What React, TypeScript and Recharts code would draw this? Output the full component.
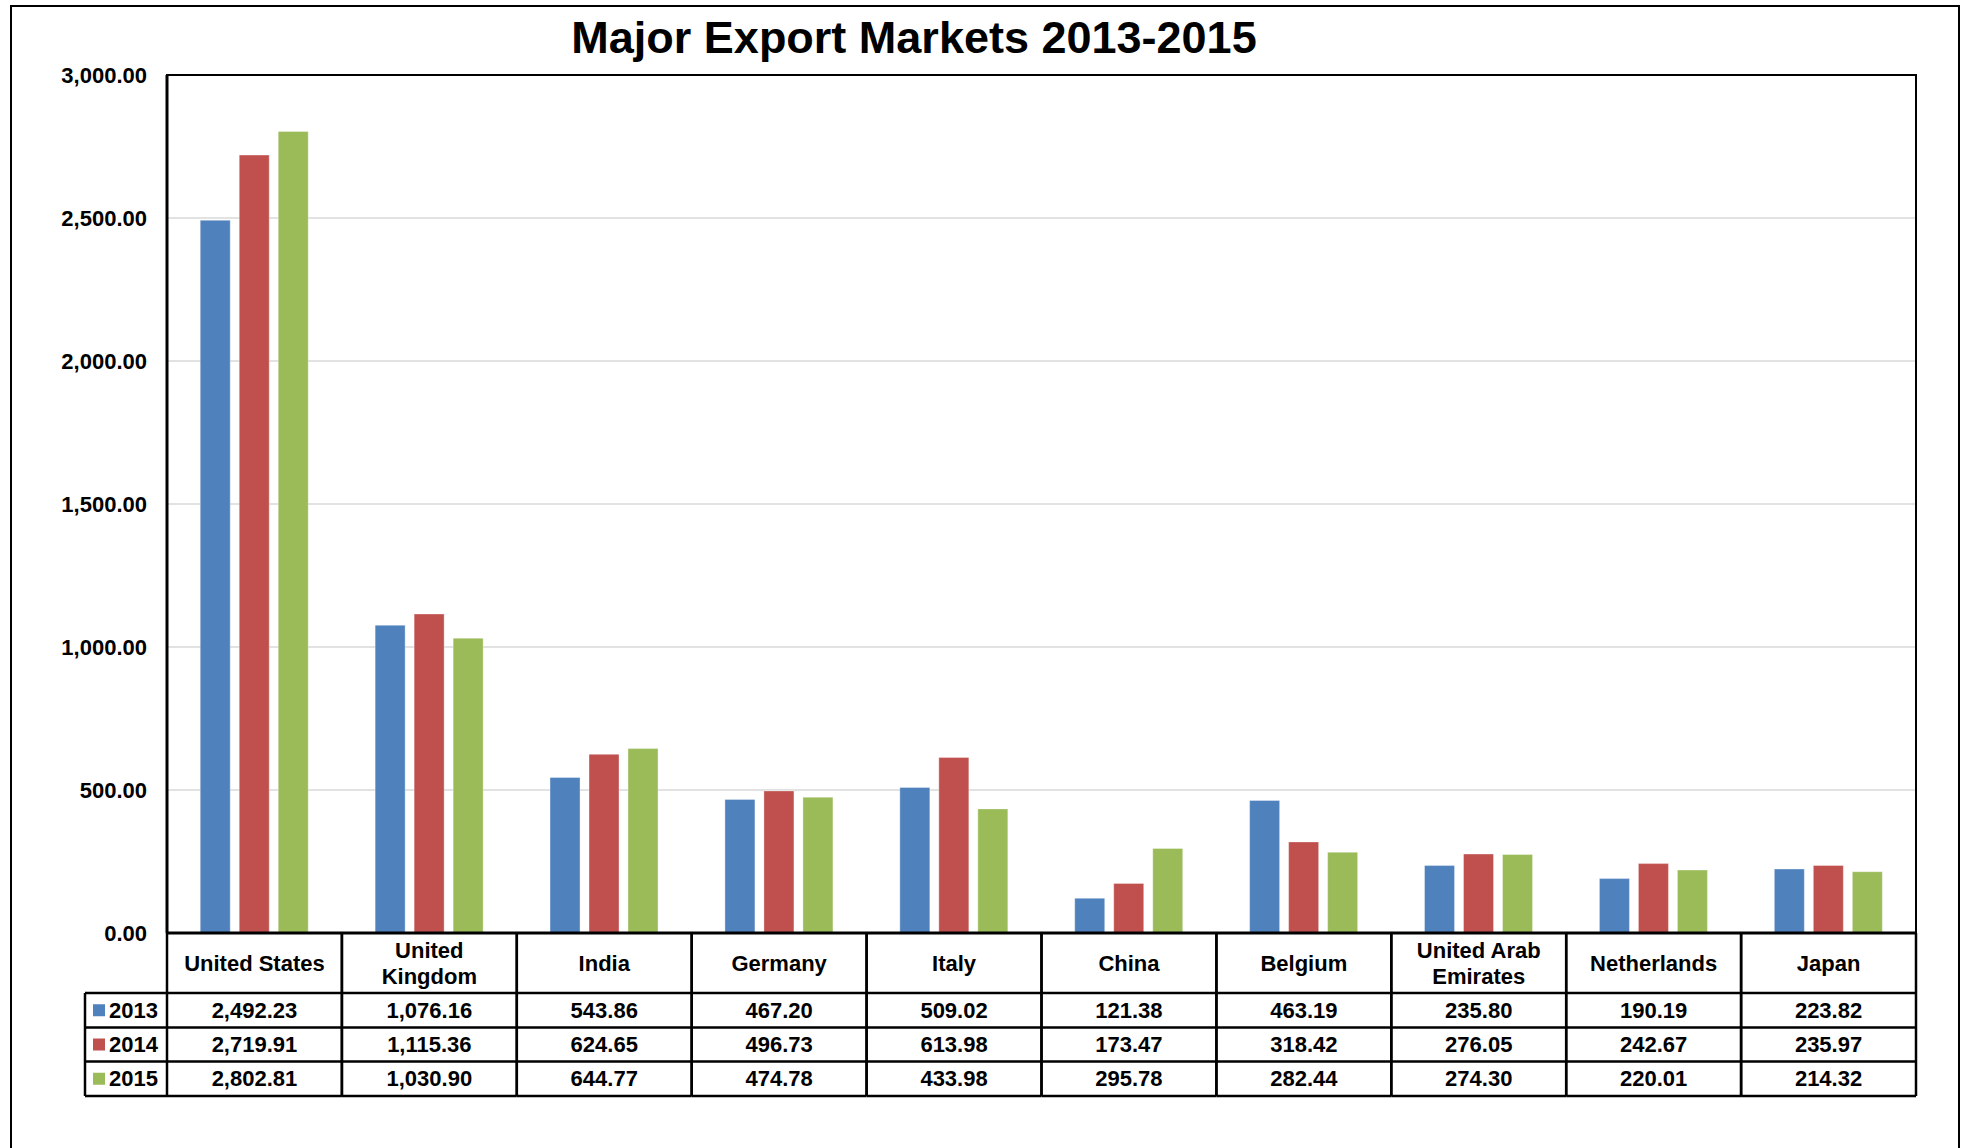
import React from 'react'
import { BarChart, Bar, XAxis, YAxis, CartesianGrid } from 'recharts'

// categories + series values
const categories = [
  'United States',
  'United Kingdom',
  'India',
  'Germany',
  'Italy',
  'China',
  'Belgium',
  'United Arab Emirates',
  'Netherlands',
  'Japan',
]
const headerLines: string[][] = [
  ['United States'],
  ['United', 'Kingdom'],
  ['India'],
  ['Germany'],
  ['Italy'],
  ['China'],
  ['Belgium'],
  ['United Arab', 'Emirates'],
  ['Netherlands'],
  ['Japan'],
]
const exports2013 = [2492.23, 1076.16, 543.86, 467.2, 509.02, 121.38, 463.19, 235.8, 190.19, 223.82]
const exports2014 = [2719.91, 1115.36, 624.65, 496.73, 613.98, 173.47, 318.42, 276.05, 242.67, 235.97]
const exports2015 = [2802.81, 1030.9, 644.77, 474.78, 433.98, 295.78, 282.44, 274.3, 220.01, 214.32]
const years = ['2013', '2014', '2015']
const yearColors = ['#4F81BD', '#C0504D', '#9BBB59']
const yTicks = [0, 500, 1000, 1500, 2000, 2500, 3000]

const seriesValues = [exports2013, exports2014, exports2015]
const data = categories.map((c, i) => ({
  country: c,
  y2013: exports2013[i],
  y2014: exports2014[i],
  y2015: exports2015[i],
}))

const FONT = '"Liberation Sans", Arial, sans-serif'
const W = 1969
const H = 1148
const PLOT_LEFT = 167
const PLOT_TOP = 75
const PLOT_RIGHT = 1916
const PLOT_BOTTOM = 933
const COL_W = (PLOT_RIGHT - PLOT_LEFT) / categories.length
const LEGEND_W = 82
// table row edges, relative to the x axis line
const ROWS = [0, 60, 94.5, 128.5, 163]

const fmt = (n: number) =>
  n.toLocaleString('en-US', { minimumFractionDigits: 2, maximumFractionDigits: 2 })

const TableTick = (props: any) => {
  const { x, y, payload } = props
  const i = categories.indexOf(payload.value)
  const left = x - COL_W / 2
  const right = x + COL_W / 2
  const lines = headerLines[i] || [payload.value]
  const headMid = y + ROWS[1] / 2
  const lineStyle = { stroke: '#000', strokeWidth: 2.5 }
  return (
    <g>
      {lines.map((t, k) => (
        <text
          key={t}
          x={x}
          y={headMid + (k - (lines.length - 1) / 2) * 26}
          textAnchor="middle"
          dominantBaseline="central"
          fontFamily={FONT}
          fontWeight="bold"
          fontSize={22}
          fill="#000"
        >
          {t}
        </text>
      ))}
      {seriesValues.map((vals, r) => (
        <text
          key={r}
          x={x}
          y={y + (ROWS[r + 1] + ROWS[r + 2]) / 2}
          textAnchor="middle"
          dominantBaseline="central"
          fontFamily={FONT}
          fontWeight="bold"
          fontSize={22}
          fill="#000"
        >
          {fmt(vals[i])}
        </text>
      ))}
      {ROWS.slice(1).map((r) => (
        <line key={r} x1={left} x2={right} y1={y + r} y2={y + r} {...lineStyle} />
      ))}
      <line x1={left} x2={left} y1={y} y2={y + ROWS[4]} {...lineStyle} />
      <line x1={right} x2={right} y1={y} y2={y + ROWS[4]} {...lineStyle} />
      {i === 0 && (
        <g>
          {ROWS.slice(1).map((r) => (
            <line key={r} x1={left - LEGEND_W} x2={left} y1={y + r} y2={y + r} {...lineStyle} />
          ))}
          <line
            x1={left - LEGEND_W}
            x2={left - LEGEND_W}
            y1={y + ROWS[1]}
            y2={y + ROWS[4]}
            {...lineStyle}
          />
          {years.map((yr, r) => {
            const cy = y + (ROWS[r + 1] + ROWS[r + 2]) / 2
            return (
              <g key={yr}>
                <rect x={left - LEGEND_W + 8} y={cy - 6} width={12} height={12} fill={yearColors[r]} />
                <text
                  x={left - LEGEND_W + 24}
                  y={cy}
                  dominantBaseline="central"
                  fontFamily={FONT}
                  fontWeight="bold"
                  fontSize={22}
                  fill="#000"
                >
                  {yr}
                </text>
              </g>
            )
          })}
        </g>
      )}
    </g>
  )
}

export default function App() {
  return (
    <div
      style={{
        position: 'absolute',
        left: 0,
        top: 0,
        width: W,
        height: H,
        overflow: 'hidden',
        background: '#fff',
      }}
    >
      <div
        style={{
          position: 'absolute',
          left: 10,
          top: 5,
          width: 1950,
          height: 1200,
          border: '2px solid #000',
          boxSizing: 'border-box',
        }}
      />
      <div
        style={{
          position: 'absolute',
          left: 0,
          width: 1828,
          top: 12,
          textAlign: 'center',
          fontFamily: FONT,
          fontWeight: 'bold',
          fontSize: 45,
          lineHeight: '52px',
          color: '#000',
        }}
      >
        Major Export Markets 2013-2015
      </div>
      <div style={{ position: 'absolute', left: 0, top: 0 }}>
        <BarChart
          width={W}
          height={H}
          data={data}
          margin={{ top: PLOT_TOP, right: W - PLOT_RIGHT, bottom: 0, left: 0 }}
          barCategoryGap="19%"
          barGap={9}
        >
          <CartesianGrid horizontal vertical={false} stroke="#D9D9D9" strokeWidth={1.5} />
          <YAxis
            width={PLOT_LEFT}
            domain={[0, 3000]}
            ticks={yTicks}
            interval={0}
            tickFormatter={fmt}
            tickLine={false}
            tickSize={0}
            tickMargin={20}
            axisLine={{ stroke: '#000', strokeWidth: 3 }}
            tick={{ fill: '#000', fontFamily: FONT, fontWeight: 'bold', fontSize: 22 }}
          />
          <XAxis
            dataKey="country"
            height={H - PLOT_BOTTOM}
            interval={0}
            tickLine={false}
            tickSize={0}
            tickMargin={0}
            axisLine={{ stroke: '#000', strokeWidth: 3 }}
            tick={<TableTick />}
          />
          <Bar dataKey="y2013" name="2013" fill={yearColors[0]} stroke="rgba(255,255,255,0.35)" isAnimationActive={false} />
          <Bar dataKey="y2014" name="2014" fill={yearColors[1]} stroke="rgba(255,255,255,0.35)" isAnimationActive={false} />
          <Bar dataKey="y2015" name="2015" fill={yearColors[2]} stroke="rgba(255,255,255,0.35)" isAnimationActive={false} />
        </BarChart>
      </div>
      <div
        style={{
          position: 'absolute',
          left: PLOT_LEFT - 1,
          top: PLOT_TOP - 1,
          width: PLOT_RIGHT - PLOT_LEFT + 2,
          height: PLOT_BOTTOM - PLOT_TOP + 2,
          border: '2px solid #000',
          boxSizing: 'border-box',
          pointerEvents: 'none',
        }}
      />
    </div>
  )
}
